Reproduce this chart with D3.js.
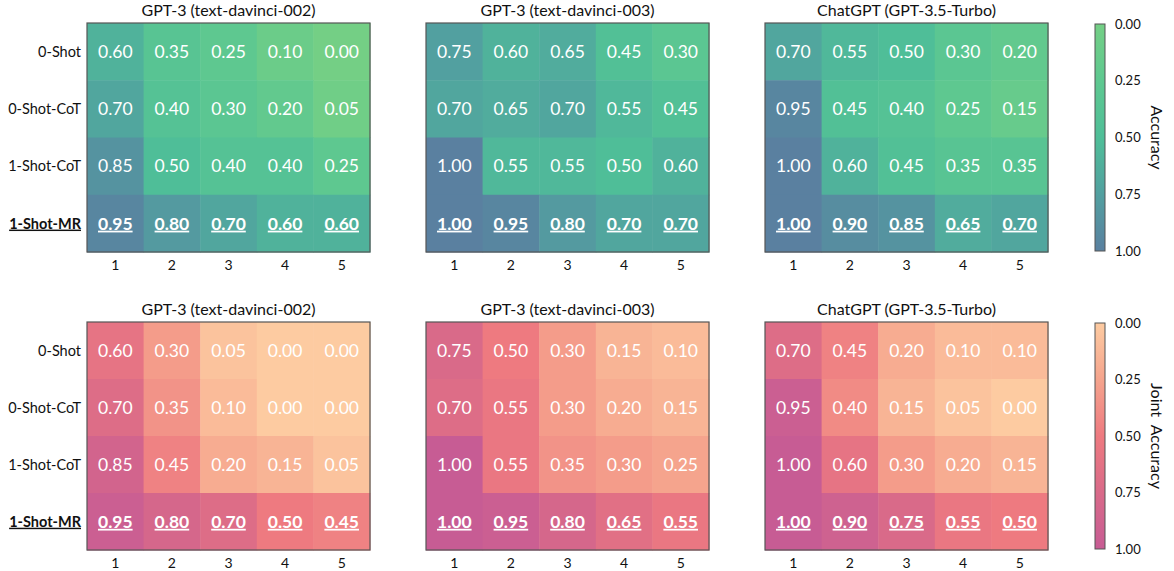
<!DOCTYPE html>
<html lang="en">
<head>
<meta charset="UTF-8">
<script src="https://cdn.jsdelivr.net/npm/d3@7"></script>
<style>
  body { margin: 0; background: #fff; }
  text { font-family: Lato, "Open Sans", sans-serif; }
</style>
</head>
<body>
<svg id="main_svg" width="1174" height="571"></svg>
<script>
// data
var methods = ["0-Shot", "0-Shot-CoT", "1-Shot-CoT", "1-Shot-MR"];
var steps = ["1", "2", "3", "4", "5"];
var models = ["GPT-3 (text-davinci-002)", "GPT-3 (text-davinci-003)", "ChatGPT (GPT-3.5-Turbo)"];
var cbTicks = [0, 0.25, 0.5, 0.75, 1];

var accDavinci002 = [[0.60, 0.35, 0.25, 0.10, 0.00], [0.70, 0.40, 0.30, 0.20, 0.05], [0.85, 0.50, 0.40, 0.40, 0.25], [0.95, 0.80, 0.70, 0.60, 0.60]];
var accDavinci003 = [[0.75, 0.60, 0.65, 0.45, 0.30], [0.70, 0.65, 0.70, 0.55, 0.45], [1.00, 0.55, 0.55, 0.50, 0.60], [1.00, 0.95, 0.80, 0.70, 0.70]];
var accChatGPT = [[0.70, 0.55, 0.50, 0.30, 0.20], [0.95, 0.45, 0.40, 0.25, 0.15], [1.00, 0.60, 0.45, 0.35, 0.35], [1.00, 0.90, 0.85, 0.65, 0.70]];

var jointDavinci002 = [[0.60, 0.30, 0.05, 0.00, 0.00], [0.70, 0.35, 0.10, 0.00, 0.00], [0.85, 0.45, 0.20, 0.15, 0.05], [0.95, 0.80, 0.70, 0.50, 0.45]];
var jointDavinci003 = [[0.75, 0.50, 0.30, 0.15, 0.10], [0.70, 0.55, 0.30, 0.20, 0.15], [1.00, 0.55, 0.35, 0.30, 0.25], [1.00, 0.95, 0.80, 0.65, 0.55]];
var jointChatGPT = [[0.70, 0.45, 0.20, 0.10, 0.10], [0.95, 0.40, 0.15, 0.05, 0.00], [1.00, 0.60, 0.30, 0.20, 0.15], [1.00, 0.90, 0.75, 0.55, 0.50]];

var greenStops = ["#74cf85", "#5ec890", "#4fbe98", "#52a0a0", "#5a80a0"];
var pinkStops = ["#fdcba1", "#f5a48d", "#ee7a80", "#d96a89", "#c75c94"];

var svg = d3.select("#main_svg");

var rowsDef = [
  { top: 23, bottom: 252, data: [accDavinci002, accDavinci003, accChatGPT], stops: greenStops, label: "Accuracy" },
  { top: 322, bottom: 550, data: [jointDavinci002, jointDavinci003, jointChatGPT], stops: pinkStops, label: "Joint  Accuracy" }
];
var panelLeft = [87, 426, 765];
var panelW = 283;

rowsDef.forEach(function (r) {
  var color = d3.scaleLinear().domain(cbTicks).range(r.stops).interpolate(d3.interpolateRgb);

  panelLeft.forEach(function (px, pi) {
    var x = d3.scaleBand().domain(steps).range([px, px + panelW]);
    var y = d3.scaleBand().domain(methods).range([r.top, r.bottom]);
    var g = svg.append("g");
    var cells = [];
    r.data[pi].forEach(function (row, ri) {
      row.forEach(function (v, ci) {
        cells.push({ m: methods[ri], s: steps[ci], v: v, last: ri === methods.length - 1 });
      });
    });

    g.selectAll("rect.cell").data(cells).enter().append("rect")
      .attr("class", "cell")
      .attr("x", function (d) { return x(d.s); })
      .attr("y", function (d) { return y(d.m); })
      .attr("width", x.bandwidth() + 0.5)
      .attr("height", y.bandwidth() + 0.5)
      .attr("fill", function (d) { return color(d.v); });

    g.selectAll("text.val").data(cells).enter().append("text")
      .attr("class", "val")
      .attr("x", function (d) { return x(d.s) + x.bandwidth() / 2; })
      .attr("y", function (d) { return y(d.m) + y.bandwidth() / 2; })
      .attr("dy", "0.36em")
      .attr("text-anchor", "middle")
      .attr("fill", "#fff")
      .attr("font-size", "17.5px")
      .attr("font-weight", function (d) { return d.last ? "bold" : "normal"; })
      .style("text-decoration", function (d) { return d.last ? "underline" : "none"; })
      .text(function (d) { return d3.format(".2f")(d.v); });

    g.append("rect")
      .attr("x", px).attr("y", r.top)
      .attr("width", panelW).attr("height", r.bottom - r.top)
      .attr("fill", "none").attr("stroke", "#555").attr("stroke-width", 1.2);

    // title
    g.append("text")
      .attr("x", px + panelW / 2).attr("y", r.top - 7)
      .attr("text-anchor", "middle")
      .attr("font-size", "16px").attr("fill", "#111")
      .text(models[pi]);

    // x tick labels
    g.selectAll("text.xt").data(steps).enter().append("text")
      .attr("x", function (d) { return x(d) + x.bandwidth() / 2; })
      .attr("y", r.bottom + 18)
      .attr("text-anchor", "middle")
      .attr("font-size", "14px").attr("fill", "#111")
      .text(function (d) { return d; });

    // row labels only on first panel
    if (pi === 0) {
      g.selectAll("text.yt").data(methods).enter().append("text")
        .attr("x", px - 6)
        .attr("y", function (d) { return y(d) + y.bandwidth() / 2; })
        .attr("dy", "0.36em")
        .attr("text-anchor", "end")
        .attr("font-size", "14.5px").attr("fill", "#111")
        .attr("font-weight", function (d, i) { return i === methods.length - 1 ? "bold" : "normal"; })
        .style("text-decoration", function (d, i) { return i === methods.length - 1 ? "underline" : "none"; })
        .text(function (d) { return d; });
    }
  });

  // colorbar
  var cbX = 1095, cbW = 10;
  var cbY = d3.scaleLinear().domain([0, 1]).range([r.top + 1, r.bottom - 1]);
  var gid = "grad" + r.label.replace(/\s/g, "");
  var grad = svg.append("defs").append("linearGradient")
    .attr("id", gid).attr("x1", 0).attr("y1", 0).attr("x2", 0).attr("y2", 1);
  grad.selectAll("stop").data(cbTicks).enter().append("stop")
    .attr("offset", function (d) { return d; })
    .attr("stop-color", function (d) { return color(d); });
  svg.append("rect")
    .attr("x", cbX).attr("y", cbY(0))
    .attr("width", cbW).attr("height", cbY(1) - cbY(0))
    .attr("fill", "url(#" + gid + ")")
    .attr("stroke", "#555").attr("stroke-width", 1);

  svg.append("g")
    .attr("transform", "translate(" + (cbX + cbW) + ",0)")
    .call(d3.axisRight(cbY).tickValues(cbTicks).tickFormat(d3.format(".2f")).tickSize(0).tickPadding(10))
    .call(function (a) {
      a.select(".domain").remove();
      a.selectAll("text").attr("font-size", "13px").attr("fill", "#111")
        .style("font-family", "Lato, 'Open Sans', sans-serif");
    });

  svg.append("text")
    .attr("transform", "translate(" + 1151 + "," + ((r.top + r.bottom) / 2) + ") rotate(90)")
    .attr("text-anchor", "middle")
    .attr("font-size", "16px").attr("fill", "#111")
    .style("white-space", "pre")
    .text(r.label);
});
</script>
</body>
</html>
